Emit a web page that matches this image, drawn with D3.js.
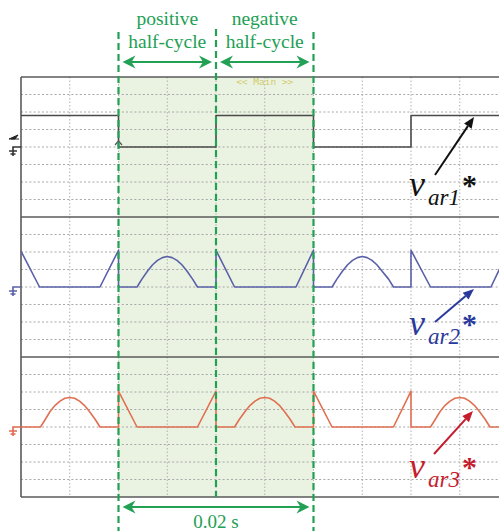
<!DOCTYPE html>
<html><head><meta charset="utf-8">
<script src="https://cdn.jsdelivr.net/npm/d3@7"></script>
<style>html,body{margin:0;padding:0;background:#fff;overflow:hidden}</style>
</head><body>
<svg id="c" width="499" height="531"></svg>
<script>
// ---- data (time in ms, amplitude in grid divisions) ----
const timeTicks = [-10, -5, 0, 5, 10, 15, 20, 25, 30, 35, 40];
const divTicks = [-4, -3, -2, -1, 0, 1, 2, 3, 4];
const halfCycleBounds = [0, 10, 20];
const var1 = [[-10,1.8],[0,1.8],[0,0],[10,0],[10,1.8],[20,1.8],[20,0],[30,0],[30,1.8],[40,1.8]];
const var2 = [[-10,2.05],[-8.1,0],[-1.9,0],[0,2.1],[0,0],[1.9,0],
  [2.4,0.45],[3.0,0.93],[3.5,1.27],[4.0,1.52],[4.5,1.68],[5,1.74],[5.5,1.68],[6,1.52],[6.5,1.27],[7,0.93],[7.6,0.45],[8.1,0],
  [10,0],[10,2.1],[11.9,0],[18.2,0],[20,2.1],[20,0],[21.9,0],
  [22.4,0.45],[23,0.93],[23.5,1.27],[24,1.52],[24.5,1.68],[25,1.74],[25.5,1.68],[26,1.52],[26.5,1.27],[27,0.93],[27.7,0.45],[28.2,0],
  [30,0],[30,2.1],[32,0],[38.2,0],[40,2.1]];
const var3 = [[-10,0],[-8.0,0],
  [-7.5,0.44],[-7,0.9],[-6.5,1.24],[-6,1.48],[-5.5,1.64],[-5,1.69],[-4.5,1.64],[-4,1.48],[-3.5,1.24],[-3,0.9],[-2.4,0.44],[-1.9,0],
  [0,0],[0,2.05],[1.9,0],[8.1,0],[10,2.05],[10,0],[11.9,0],
  [12.4,0.44],[13,0.9],[13.5,1.24],[14,1.48],[14.5,1.64],[15,1.69],[15.5,1.64],[16,1.48],[16.5,1.24],[17,0.9],[17.6,0.44],[18.1,0],
  [20,0],[20,2.05],[21.9,0],[28.2,0],[30,2.05],[30,0],[32,0],
  [32.5,0.44],[33,0.9],[33.5,1.24],[34,1.48],[34.5,1.64],[35,1.69],[35.5,1.64],[36,1.48],[36.5,1.24],[37,0.9],[37.6,0.44],[38.1,0],
  [40,0]];
const topLabels = [["positive","half-cycle"],["negative","half-cycle"]];
const periodLabel = "0.02 s";
const statusText = "<< Main >>";

// ---- layout ----
const svg = d3.select("#c");
const x = d3.scaleLinear().domain([-10, 40]).range([21, 508.5]);
const panelTop = [77, 217, 357], panelH = 140;
const ys = panelTop.map(t => d3.scaleLinear().domain([-4, 4]).range([t + panelH, t]));
const GREEN = "#22a054";

// shaded region
svg.append("rect").attr("x", x(0)).attr("y", 77).attr("width", x(20) - x(0)).attr("height", 420)
  .attr("fill", "#eaf3e2");

// grid
const g = svg.append("g");
ys.forEach(y => {
  divTicks.slice(1, -1).forEach(d => {
    g.append("line").attr("x1", x(-10)).attr("x2", x(40)).attr("y1", y(d)).attr("y2", y(d))
      .attr("stroke", "#a8a8a8").attr("stroke-width", 1).attr("stroke-dasharray", "2,2.2");
  });
});
timeTicks.slice(1, -1).forEach(t => {
  g.append("line").attr("x1", x(t)).attr("x2", x(t)).attr("y1", 77).attr("y2", 497)
    .attr("stroke", "#b0b0b0").attr("stroke-width", 1).attr("stroke-dasharray", "1.5,2");
});

// frame
const frame = svg.append("g").attr("stroke", "#5a5a5a").attr("stroke-width", 1.6);
[77, 217, 357, 497].forEach(yy => frame.append("line").attr("x1", x(-10)).attr("x2", x(40)).attr("y1", yy).attr("y2", yy));
frame.append("line").attr("x1", x(-10)).attr("x2", x(-10)).attr("y1", 77).attr("y2", 497);

// status text
svg.append("text").attr("x", x(15)).attr("y", 85).attr("text-anchor", "middle")
  .attr("font-family", "DejaVu Sans Mono").attr("font-size", 9.5).attr("fill", "#d4cc6a").text(statusText);

// waveforms
const series = [
  {data: var1, y: ys[0], color: "#4a4a4a"},
  {data: var2, y: ys[1], color: "#5a60a8"},
  {data: var3, y: ys[2], color: "#e07052"}
];
series.forEach(s => {
  const line = d3.line().x(d => x(d[0])).y(d => s.y(d[1]));
  svg.append("path").attr("d", line(s.data)).attr("fill", "none")
    .attr("stroke", s.color).attr("stroke-width", 1.6).attr("stroke-linejoin", "round");
});

// trigger caret
svg.append("path").attr("d", `M${x(0)-3.5},${ys[0](0)-2} L${x(0)},${ys[0](0)-6} L${x(0)+3.5},${ys[0](0)-2}`)
  .attr("fill", "none").attr("stroke", "#555").attr("stroke-width", 1.2);

// channel markers
function ground(yy, color) {
  const m = svg.append("g").attr("stroke", color).attr("stroke-width", 1.6).attr("fill", "none");
  m.append("path").attr("d", `M21,${yy} L13,${yy} L13,${yy+9} M9,${yy+4} L17,${yy+4} M10.5,${yy+7} L15.5,${yy+7}`);
}
ground(ys[0](0), "#333");
ground(ys[1](0), "#5a60a8");
ground(ys[2](0), "#e06a50");
svg.append("path").attr("d", `M9,${ys[0](0)-8} L18,${ys[0](0)-12} L15,${ys[0](0)-8} Z M11,${ys[0](0)-8} L19,${ys[0](0)-8}`)
  .attr("fill", "#222").attr("stroke", "#222").attr("stroke-width", 1);

// green dashed boundaries (middle one stops at the frame bottom)
halfCycleBounds.forEach((t, i) => {
  svg.append("line").attr("x1", x(t)).attr("x2", x(t)).attr("y1", i === 1 ? 29 : 32).attr("y2", i === 1 ? 497 : 531)
    .attr("stroke", GREEN).attr("stroke-width", 2.2).attr("stroke-dasharray", "7,4");
});

// double arrows
function arrowHead(xt, yy, dir) {
  const L = 13, W = 6.5, N = 9;
  return `M${xt},${yy} L${xt+dir*L},${yy-W} L${xt+dir*N},${yy} L${xt+dir*L},${yy+W} Z`;
}
function dblArrow(t0, t1, yy) {
  const a = x(t0) + 4, b = x(t1) - 4;
  svg.append("line").attr("x1", a + 6).attr("x2", b - 6).attr("y1", yy).attr("y2", yy)
    .attr("stroke", GREEN).attr("stroke-width", 2.2);
  svg.append("path").attr("d", arrowHead(a, yy, 1) + arrowHead(b, yy, -1)).attr("fill", GREEN);
}
dblArrow(0, 10, 62);
dblArrow(10, 20, 62);
dblArrow(0, 20, 507);

// green texts
topLabels.forEach((lbl, i) => {
  const cx = x(5 + 10 * i);
  lbl.forEach((s, j) => svg.append("text").attr("x", cx).attr("y", 25 + 23 * j).attr("text-anchor", "middle")
    .attr("font-family", "Liberation Serif").attr("font-size", 19.5).attr("fill", GREEN).text(s));
});
svg.append("text").attr("x", x(10)).attr("y", 528).attr("text-anchor", "middle")
  .attr("font-family", "Liberation Serif").attr("font-size", 19).attr("fill", GREEN).text(periodLabel);

// signal labels with arrows
const labels = [
  {sub: "ar1", color: "#111", base: 196, from: [435, 175], to: [474, 117]},
  {sub: "ar2", color: "#2a3a9c", base: 335, from: [435, 322], to: [474, 289]},
  {sub: "ar3", color: "#c41e2e", base: 478, from: [434, 454], to: [473, 411]}
];
labels.forEach(l => {
  const t = svg.append("text").attr("font-family", "Liberation Serif").attr("font-style", "italic").attr("fill", l.color);
  t.append("tspan").attr("x", 409).attr("y", l.base).attr("font-size", 36).text("v");
  t.append("tspan").attr("x", 428).attr("y", l.base + 9).attr("font-size", 23).text(l.sub);
  svg.append("text").attr("x", 462).attr("y", l.base - 1).attr("font-family", "Liberation Serif")
    .attr("font-weight", "bold").attr("font-size", 30).attr("fill", l.color).text("*");
  const dx = l.to[0] - l.from[0], dy = l.to[1] - l.from[1], len = Math.hypot(dx, dy);
  const ux = dx / len, uy = dy / len, hl = 11, hw = 4.5;
  const bx = l.to[0] - ux * hl, by = l.to[1] - uy * hl;
  svg.append("line").attr("x1", l.from[0]).attr("y1", l.from[1]).attr("x2", bx).attr("y2", by)
    .attr("stroke", l.color).attr("stroke-width", 2);
  svg.append("path").attr("d", `M${l.to[0]},${l.to[1]} L${bx - uy*hw},${by + ux*hw} L${bx + uy*hw},${by - ux*hw} Z`)
    .attr("fill", l.color);
});
</script>
</body></html>
